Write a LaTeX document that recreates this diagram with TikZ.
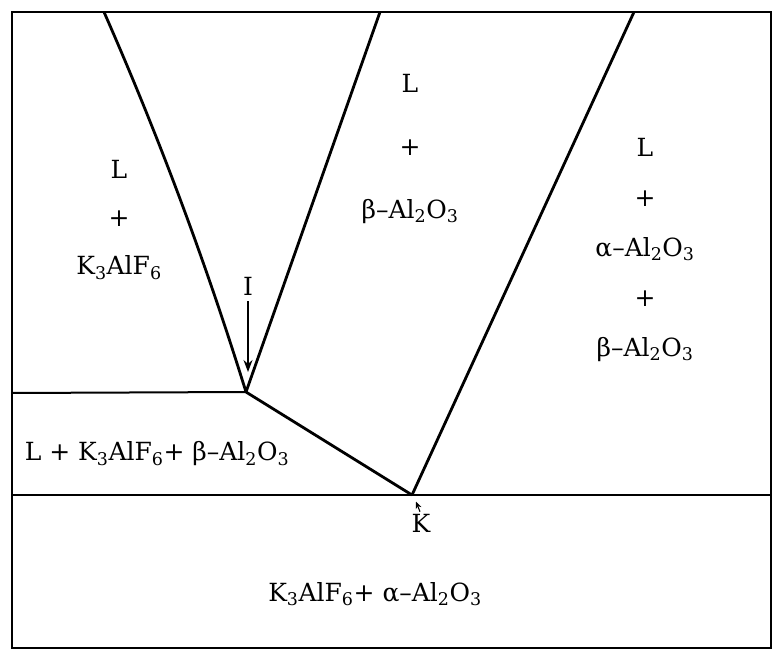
\documentclass[tikz,border=0pt]{standalone}
\usepackage{fontspec}
\setmainfont{DejaVu Serif}
\usepackage{tikz}
\usetikzlibrary{arrows.meta}

\begin{document}
\begin{tikzpicture}[
    x=1pt, y=-1pt,
    font=\fontsize{25}{29}\selectfont,
    frame/.style={line width=2pt},
    phase/.style={line width=2.8pt, line join=round},
    lbl/.style={inner sep=0pt, align=center},
    arrow/.style={-{Stealth[length=12pt, width=9pt]}, line width=1.3pt},
    karrow/.style={-{Stealth[length=7pt, width=6pt]}, line width=1.1pt}
]
\useasboundingbox (0,0) rectangle (773,652);

% --- invariant points ---
\coordinate (I) at (246,392);
\coordinate (K) at (412,495);

% --- frame ---
\draw[frame] (12,12) rectangle (771,648);
\draw[frame] (12,393) -- (I);
\draw[frame] (12,495) -- (771,495);

% --- phase boundaries ---
\draw[phase] (104,12) .. controls (159,137) and (206,263) .. (I);
\draw[phase] (I) -- (380,12);
\draw[phase] (I) -- (K);
\draw[phase] (K) -- (634,12);

% --- field labels ---
\node[lbl] (lk) at (119,220) {L\\[19pt]+\\[19pt]K\textsubscript{3}AlF\textsubscript{6}};
\node[lbl] (lb) at (410,149) {L\\[34pt]+\\[34pt]β–Al\textsubscript{2}O\textsubscript{3}};
\node[lbl] (lab) at (645,250) {L\\[21pt]+\\[21pt]α–Al\textsubscript{2}O\textsubscript{3}\\[21pt]+\\[21pt]β–Al\textsubscript{2}O\textsubscript{3}};
\node[lbl] (lkb) at (157,454) {L + K\textsubscript{3}AlF\textsubscript{6}+ β–Al\textsubscript{2}O\textsubscript{3}};
\node[lbl] (ka) at (375,594) {K\textsubscript{3}AlF\textsubscript{6}+ α–Al\textsubscript{2}O\textsubscript{3}};

% --- point labels ---
\node[lbl] (Ilbl) at (248,286) {I};
\node[lbl] (Klbl) at (421,523) {K};
\draw[arrow] (Ilbl.south) ++(0,6) -- ([yshift=20pt]I -| Ilbl.south);
\draw[karrow] (Klbl.north) ++(-1,-2) -- ++(-4,-10);

\end{tikzpicture}
\end{document}
